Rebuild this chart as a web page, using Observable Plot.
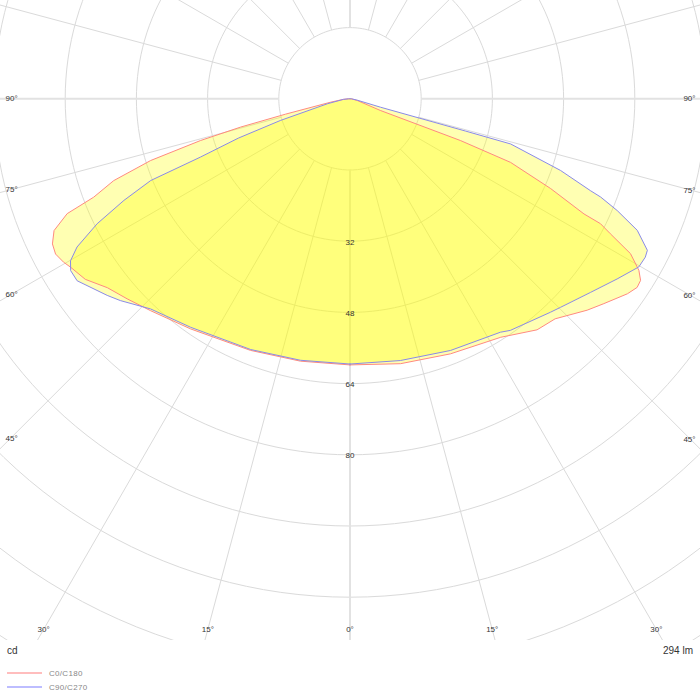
<!DOCTYPE html>
<html>
<head>
<meta charset="utf-8">
<script src="https://cdn.jsdelivr.net/npm/d3@7"></script>
<script src="https://cdn.jsdelivr.net/npm/@observablehq/plot@0.6"></script>
<style>
  body { margin: 0; background: #fff; }
  #wrap { position: relative; width: 700px; height: 700px; font-family: "Liberation Sans", Arial, sans-serif; }
  #wrap svg { display: block; }
  .note { position: absolute; font-size: 10px; line-height: 12px; color: #333; }
  .leg { position: absolute; font-size: 8px; line-height: 10px; color: #888; letter-spacing: 0.3px; }
  .sw { position: absolute; width: 35px; height: 2px; }
</style>
</head>
<body>
<div id="wrap"></div>
<script>
// ---- data (gamma in degrees from nadir, intensity in cd), listed along each half-curve from 0° upward
const c0Gamma  = [0, 10.8, 21.5, 32.3, 39.0, 43.0, 48.3, 51.1, 54.9, 56.7, 58.0, 59.3, 61.1, 62.6, 63.5, 63.8, 65.9, 68.4, 69.3, 69.0, 76.7, 90, 180];
const c0Cd     = [59.8, 60.6, 61.6, 63.4, 66.8, 67.6, 71.4, 73.3, 76.2, 77.2, 77.0, 75.5, 72.0, 65.9, 62.9, 58.6, 49.4, 38.8, 26.5, 7.3, 1.7, 0.3, 0];
const c180Gamma = [0, 10.7, 21.6, 34.7, 43.3, 48.1, 52.1, 55.7, 58.9, 60.3, 62.2, 64.0, 66.0, 67.9, 69.0, 70.9, 72.8, 74.4, 75.5, 76.6, 80.1, 85, 90, 180];
const c180Cd    = [59.8, 60.0, 60.8, 62.9, 65.4, 67.3, 69.1, 72.0, 73.3, 74.1, 74.8, 74.4, 72.8, 68.6, 61.7, 56.2, 46.9, 34.9, 25.4, 14.9, 4.45, 1.5, 0.3, 0];
const c90Gamma = [0, 10.9, 21.8, 32.8, 34.7, 43.2, 45.3, 51.2, 56.0, 59.8, 61.8, 63.0, 65.4, 67.3, 68.6, 69.1, 71.2, 74.3, 74.4, 74.6, 80, 90, 180];
const c90Cd    = [59.6, 59.9, 60.9, 62.4, 63.3, 65.8, 66.6, 69.4, 72.4, 75.1, 75.3, 75.0, 71.0, 65.1, 60.5, 57.8, 50.0, 37.5, 27.0, 7.1, 1.5, 0.3, 0];
const c270Gamma = [0, 10.7, 21.6, 34.9, 43.5, 48.7, 51.0, 56.3, 58.4, 59.9, 61.5, 63.7, 65.8, 67.7, 68.7, 70.6, 72.7, 77.6, 85, 90, 180];
const c270Cd    = [59.6, 59.8, 60.6, 62.6, 65.1, 68.7, 70.2, 73.7, 73.7, 72.6, 69.8, 63.4, 55.7, 48.4, 36.1, 26.6, 16.4, 5.2, 1.5, 0.3, 0];

const ringValues = [16, 32, 48, 64, 80, 96, 112, 128, 144, 160];
const ringLabels = [32, 48, 64, 80];
const spokeAngles = [0, 15, 30, 45, 60, 75, 90, 105, 120, 135, 150, 165, 180, 195, 210, 225, 240, 255, 270, 285, 300, 315, 330, 345];
const sideLabelAngles = [90, 75, 60, 45];
const bottomLabelAngles = [-30, -15, 0, 15, 30];
const seriesNames = ["C0/C180", "C90/C270"];
const seriesColors = ["#ff8a80", "#8a8ae8"];
const legendColors = ["#ffbdbd", "#bdbdff"];
const unitLabel = "cd";
const fluxLabel = "294 lm";

// ---- geometry of the frame
const W = 700, H = 640;
const k = 4.45;           // px per cd
const cx = 349.5, cy = 98.3; // pole position in px
const rad = d => d * Math.PI / 180;

function half(gammas, cds, side) {
  return gammas.map((g, i) => ({x: side * cds[i] * Math.sin(rad(g)), y: cds[i] * Math.cos(rad(g))}));
}
function closed(rightG, rightC, leftG, leftC) {
  return half(rightG, rightC, 1).concat(half(leftG, leftC, -1).reverse());
}
const redPoly = closed(c0Gamma, c0Cd, c180Gamma, c180Cd);
const bluePoly = closed(c90Gamma, c90Cd, c270Gamma, c270Cd);

const ringPts = [];
for (const r of ringValues) {
  for (let t = 0; t <= 360; t += 2) ringPts.push({r, x: r * Math.sin(rad(t)), y: r * Math.cos(rad(t))});
}
const spokes = spokeAngles.map(a => ({a, x1: 16 * Math.sin(rad(a)), y1: 16 * Math.cos(rad(a)), x2: 220 * Math.sin(rad(a)), y2: 220 * Math.cos(rad(a))}));
const main = spokes.filter(s => s.a % 90 === 0);
const minor = spokes.filter(s => s.a % 90 !== 0);

const leftX = (cx - 10) / k, rightX = (W - 10 - cx) / k;
const sideLabels = [];
for (const g of sideLabelAngles) {
  sideLabels.push({x: (5 - cx) / k, y: leftX * Math.cos(rad(g)) / Math.sin(rad(g)), t: g + "°", anchor: "start"});
  sideLabels.push({x: (W - 5 - cx) / k, y: rightX * Math.cos(rad(g)) / Math.sin(rad(g)), t: g + "°", anchor: "end"});
}
const by = (629 - cy) / k;
const bottomLabels = bottomLabelAngles.map(g => ({x: by * Math.tan(rad(g)), y: by, t: Math.abs(g) + "°"}));

const plot = Plot.plot({
  width: W, height: H,
  marginTop: 0, marginBottom: 0, marginLeft: 0, marginRight: 0,
  x: {domain: [-cx / k, (W - cx) / k], axis: null},
  y: {domain: [(H - cy) / k, -cy / k], axis: null},
  style: {fontFamily: "'Liberation Sans', Arial, sans-serif", background: "#fff"},
  marks: [
    Plot.line(ringPts, {x: "x", y: "y", z: "r", stroke: "#dadada", strokeWidth: 1, clip: true}),
    Plot.link(minor, {x1: "x1", y1: "y1", x2: "x2", y2: "y2", stroke: "#dadada", strokeWidth: 1, clip: true}),
    Plot.link(main, {x1: "x1", y1: "y1", x2: "x2", y2: "y2", stroke: "#e2e2e2", strokeWidth: 2, clip: true}),
    Plot.line(bluePoly, {x: "x", y: "y", fill: "#ffff00", fillOpacity: 0.3, stroke: "none", curve: "linear-closed"}),
    Plot.line(redPoly, {x: "x", y: "y", fill: "#ffff00", fillOpacity: 0.3, stroke: "none", curve: "linear-closed"}),
    Plot.line(redPoly, {x: "x", y: "y", stroke: seriesColors[0], strokeWidth: 1, curve: "linear-closed"}),
    Plot.line(bluePoly, {x: "x", y: "y", stroke: seriesColors[1], strokeWidth: 1, curve: "linear-closed"}),
    Plot.text(ringLabels, {x: d => 0, y: d => d, text: d => String(d), dy: 1, fontSize: 8, fill: "#333"}),
    Plot.text(sideLabels.filter(d => d.anchor === "start"), {x: "x", y: "y", text: "t", textAnchor: "start", fontSize: 8, fill: "#333"}),
    Plot.text(sideLabels.filter(d => d.anchor === "end"), {x: "x", y: "y", text: "t", textAnchor: "end", fontSize: 8, fill: "#333"}),
    Plot.text(bottomLabels, {x: "x", y: "y", text: "t", fontSize: 8, fill: "#333"})
  ]
});

const wrap = document.getElementById("wrap");
wrap.appendChild(plot);

function addDiv(cls, style, text) {
  const d = document.createElement("div");
  d.className = cls;
  Object.assign(d.style, style);
  if (text != null) d.textContent = text;
  wrap.appendChild(d);
}
addDiv("note", {left: "7px", top: "645px"}, unitLabel);
addDiv("note", {right: "7px", top: "645px"}, fluxLabel);
seriesNames.forEach((name, i) => {
  const yLine = 673 + i * 14;
  addDiv("sw", {left: "7px", top: (yLine - 1) + "px", background: legendColors[i]});
  addDiv("leg", {left: "49px", top: (yLine - 4) + "px"}, name);
});
</script>
</body>
</html>
